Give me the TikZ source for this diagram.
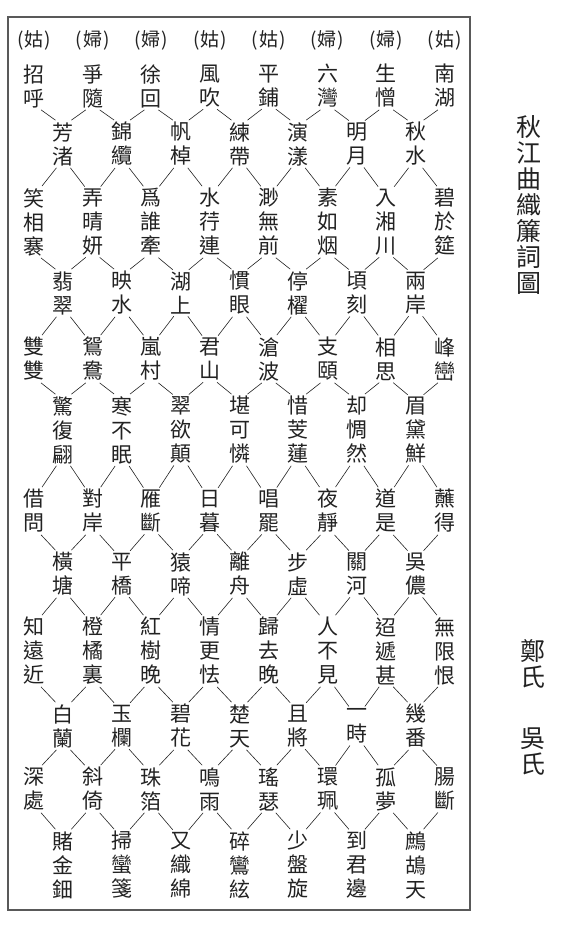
\documentclass[tikz,border=0pt]{standalone}
\usepackage{fontspec}
\newfontfamily\cjk{Noto Sans CJK TC}
\definecolor{ink}{HTML}{222222}
\tikzset{
  word/.style={font=\cjk\fontsize{21}{24}\selectfont, align=center, inner xsep=0pt, inner ysep=2pt, text=ink},
  role/.style={font=\cjk\fontsize{19}{20}\selectfont, inner sep=0pt, text=ink},
  title/.style={font=\cjk\fontsize{25}{26}\selectfont, align=center, text=ink},
  link/.style={draw=ink, line width=0.6pt},
  frame/.style={draw=black!65, line width=1.6pt}
}
\begin{document}
\begin{tikzpicture}[x=1pt,y=-1pt]
\useasboundingbox (0,0) rectangle (564,927);
\draw[frame] (8,17) rectangle (470,910);

% roles over the columns
\foreach \who [count=\i from 0] in {姑,婦,婦,姑,姑,婦,婦,姑}
  \node[role] (r0c\i) at (34+58.7*\i, 40) {(\kern1pt\who\kern1pt)};

% full rows
\foreach \txt [count=\i from 0] in {{招\\呼},{爭\\隨},{徐\\回},{風\\吹},{平\\鋪},{六\\灣},{生\\憎},{南\\湖}}
  \node[word] (r1c\i) at (34+58.7*\i, 86) {\txt};
\foreach \txt [count=\i from 0] in {{笑\\相\\褰},{弄\\晴\\妍},{爲\\誰\\牽},{水\\荇\\連},{渺\\無\\前},{素\\如\\烟},{入\\湘\\川},{碧\\於\\筵}}
  \node[word] (r3c\i) at (34+58.7*\i, 222) {\txt};
\foreach \txt [count=\i from 0] in {{雙\\雙},{鴛\\鴦},{嵐\\村},{君\\山},{滄\\波},{支\\頤},{相\\思},{峰\\巒}}
  \node[word] (r5c\i) at (34+58.7*\i, 359) {\txt};
\foreach \txt [count=\i from 0] in {{借\\問},{對\\岸},{雁\\斷},{日\\暮},{唱\\罷},{夜\\靜},{道\\是},{蘸\\得}}
  \node[word] (r7c\i) at (34+58.7*\i, 511) {\txt};
\foreach \txt [count=\i from 0] in {{知\\遠\\近},{橙\\橘\\裏},{紅\\樹\\晚},{情\\更\\怯},{歸\\去\\晚},{人\\不\\見},{迢\\遞\\甚},{無\\限\\恨}}
  \node[word] (r9c\i) at (34+58.7*\i, 651) {\txt};
\foreach \txt [count=\i from 0] in {{深\\處},{斜\\倚},{珠\\箔},{鳴\\雨},{瑤\\瑟},{環\\珮},{孤\\夢},{腸\\斷}}
  \node[word] (r11c\i) at (34+58.7*\i, 789) {\txt};

% half rows
\foreach \txt [count=\i from 0] in {{芳\\渚},{錦\\纜},{帆\\棹},{練\\帶},{演\\漾},{明\\月},{秋\\水}}
  \node[word] (r2c\i) at (63.4+58.7*\i, 144) {\txt};
\foreach \txt [count=\i from 0] in {{翡\\翠},{映\\水},{湖\\上},{慣\\眼},{停\\櫂},{頃\\刻},{兩\\岸}}
  \node[word] (r4c\i) at (63.4+58.7*\i, 293) {\txt};
\foreach \txt [count=\i from 0] in {{驚\\復\\翩},{寒\\不\\眠},{翠\\欲\\顛},{堪\\可\\憐},{惜\\芰\\蓮},{却\\惆\\然},{眉\\黛\\鮮}}
  \node[word] (r6c\i) at (63.4+58.7*\i, 430) {\txt};
\foreach \txt [count=\i from 0] in {{橫\\塘},{平\\橋},{猿\\啼},{離\\舟},{步\\虛},{關\\河},{吳\\儂}}
  \node[word] (r8c\i) at (63.4+58.7*\i, 574) {\txt};
\foreach \txt [count=\i from 0] in {{白\\蘭},{玉\\欄},{碧\\花},{楚\\天},{且\\將},{一\\時},{幾\\番}}
  \node[word] (r10c\i) at (63.4+58.7*\i, 726) {\txt};
\foreach \txt [count=\i from 0] in {{賭\\金\\鈿},{掃\\蠻\\箋},{又\\織\\綿},{碎\\鸞\\絃},{少\\盤\\旋},{到\\君\\邊},{鷓\\鴣\\天}}
  \node[word] (r12c\i) at (63.4+58.7*\i, 865) {\txt};

% lattice: full row down to half row
\foreach \rowA/\rowB in {1/2,3/4,5/6,7/8,9/10,11/12} {
  \foreach \col [evaluate=\col as \nxt using int(\col+1)] in {0,...,6} {
    \draw[link] ([xshift=7pt]r\rowA c\col.south) -- ([xshift=-8pt]r\rowB c\col.north);
    \draw[link] ([xshift=-7pt]r\rowA c\nxt.south) -- ([xshift=8pt]r\rowB c\col.north);
  }
}
% half row down to full row
\foreach \rowA/\rowB in {2/3,4/5,6/7,8/9,10/11} {
  \foreach \col [evaluate=\col as \nxt using int(\col+1)] in {0,...,6} {
    \draw[link] ([xshift=-7pt]r\rowA c\col.south) -- ([xshift=8pt]r\rowB c\col.north);
    \draw[link] ([xshift=7pt]r\rowA c\col.south) -- ([xshift=-8pt]r\rowB c\nxt.north);
  }
}

% title and authors
\node[title] (ttl) at (529,205) {秋\\江\\曲\\織\\簾\\詞\\圖};
\node[title] (zheng) at (533,664) {鄭\\氏};
\node[title] (wu) at (533,752) {吳\\氏};
\end{tikzpicture}
\end{document}
